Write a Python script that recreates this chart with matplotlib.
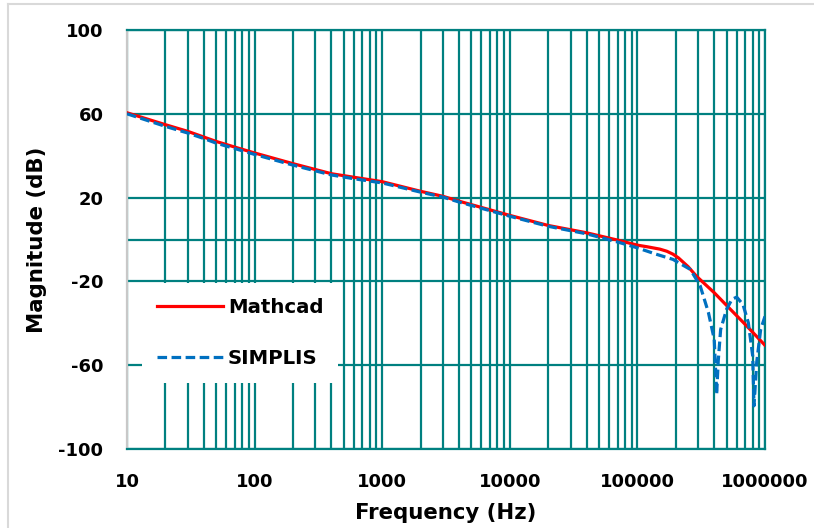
import matplotlib
matplotlib.use("Agg")
import matplotlib.pyplot as plt
from matplotlib.lines import Line2D
from matplotlib.ticker import FixedLocator, NullFormatter

plt.rcParams["font.family"] = ["DejaVu Sans"]

# ---- data ----
x_ticks = [10, 100, 1000, 10000, 100000, 1000000]
x_tick_labels = ["10", "100", "1000", "10000", "100000", "1000000"]
y_ticks = [-100, -60, -20, 20, 60, 100]
y_tick_labels = ["-100", "-60", "-20", "20", "60", "100"]

mathcad_f = [10, 20, 30, 40, 50, 70, 100, 200, 400, 600, 1000, 2000, 3000, 4000,
             10000, 20000, 40000, 70000, 100000, 120000, 150000, 170000, 190000,
             210000, 250000, 290000, 400000, 510000, 720000, 1000000]
mathcad_db = [60.5, 54.8, 51.6, 48.9, 46.8, 44.1, 41.3, 36.2, 31.4, 29.7, 27.6, 23.0,
              20.6, 18.3, 11.5, 6.7, 3.2, -0.3, -2.7, -3.5, -4.6, -5.6, -7.0,
              -8.8, -13.0, -17.5, -25.4, -32.0, -41.3, -50.5]

simplis_f = [10, 20, 30, 40, 50, 70, 100, 200, 400, 600, 1000, 2000, 3000, 4000,
             10000, 20000, 40000, 70000, 100000, 140000, 190000, 260000, 310000,
             360000, 400000, 418000, 430000, 449000, 500000, 550000, 600000, 672000,
             740000, 801000, 820000, 861000, 925000, 1000000]
simplis_db = [60.0, 54.0, 50.8, 48.2, 46.0, 43.4, 40.6, 35.5, 30.8, 29.0, 27.0, 22.6,
              20.2, 17.9, 11.1, 6.3, 2.7, -1.2, -4.0, -7.0, -9.5, -14.3, -22.0,
              -34.8, -47.6, -74.0, -58.0, -43.0, -33.3, -28.6, -27.5, -31.0,
              -39.7, -55.6, -79.4, -58.6, -42.9, -36.7]

series_names = ["Mathcad", "SIMPLIS"]

# ---- figure ----
W, H = 814, 528
fig = plt.figure(figsize=(W / 100, H / 100), dpi=100)
left, right, top, bottom = 127, 765, 30, 449
ax = fig.add_axes([left / W, 1 - bottom / H, (right - left) / W, (bottom - top) / H])

teal = "#008080"
ax.set_xscale("log")
ax.set_xlim(10, 1e6)
ax.set_ylim(-100, 100)

# grid
ax.xaxis.set_major_locator(FixedLocator(x_ticks))
ax.xaxis.set_minor_locator(FixedLocator([m * 10 ** e for e in range(1, 6) for m in range(2, 10)]))
ax.xaxis.set_minor_formatter(NullFormatter())
ax.set_xticks(x_ticks)
ax.set_xticklabels(x_tick_labels)
ax.set_yticks(y_ticks)
ax.set_yticklabels(y_tick_labels)
ax.grid(True, which="major", axis="both", color=teal, lw=1.6)
ax.grid(True, which="minor", axis="x", color=teal, lw=1.6)
ax.axhline(0, color=teal, lw=1.6, zorder=1)
ax.set_axisbelow(True)
ax.tick_params(which="both", length=0)
ax.tick_params(axis="y", pad=17)
ax.tick_params(axis="x", pad=17.5)

for s in ["top", "right", "bottom"]:
    ax.spines[s].set_color(teal)
    ax.spines[s].set_linewidth(1.6)
ax.spines["left"].set_color("#C8C8C8")
ax.spines["left"].set_linewidth(1.6)

for lab in ax.get_xticklabels() + ax.get_yticklabels():
    lab.set_fontweight("bold")
    lab.set_fontsize(13)

ax.plot(mathcad_f, mathcad_db, color="#FF0000", lw=2.3, label=series_names[0], zorder=3)
ax.plot(simplis_f, simplis_db, color="#0070C0", lw=2.3, dashes=(3, 1.4),
        label=series_names[1], zorder=4)

ax.set_xlabel("Frequency (Hz)", fontsize=15.3, fontweight="bold", labelpad=8.5)
ax.set_ylabel("Magnitude (dB)", fontsize=15.3, fontweight="bold", labelpad=8)

leg = ax.legend(loc="upper left", bbox_to_anchor=(0.0235, 0.395), borderaxespad=0,
                frameon=True, fancybox=False, framealpha=1, edgecolor="none",
                facecolor="white", prop={"weight": "bold", "size": 14.2},
                handlelength=3.35, handletextpad=0.25, labelspacing=1.6, borderpad=0.75)
leg.get_frame().set_linewidth(0)

# outer chart-area border (top and left visible)
fig.add_artist(Line2D([8 / W, 1], [1 - 4 / H, 1 - 4 / H], color="#D9D9D9", lw=1.5))
fig.add_artist(Line2D([8 / W, 8 / W], [0, 1 - 4 / H], color="#D9D9D9", lw=1.5))

fig.savefig("out.png", dpi=100)
